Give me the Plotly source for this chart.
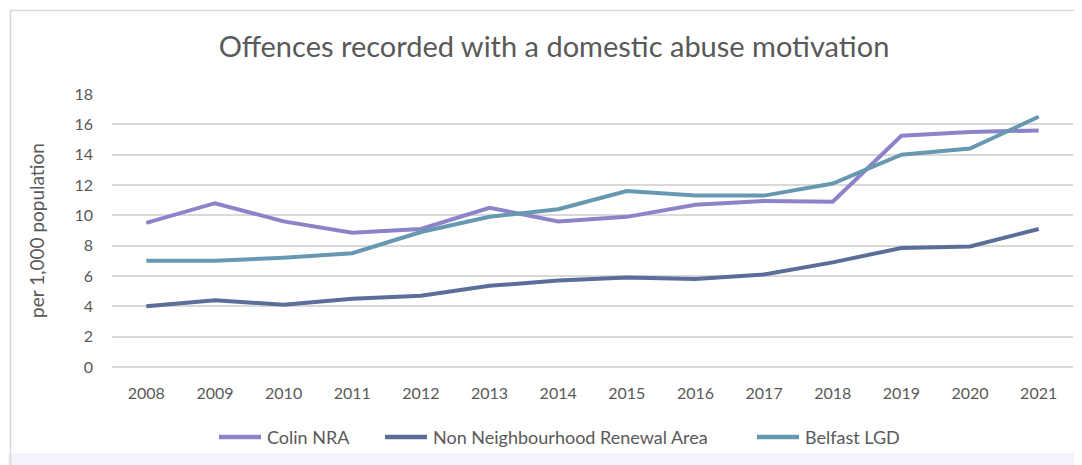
"""Offences recorded with a domestic abuse motivation - line chart."""

import plotly.graph_objects as go

years = [str(y) for y in range(2008, 2022)]
colin_nra = [9.5, 10.8, 9.6, 8.85, 9.1, 10.5, 9.6, 9.9, 10.7, 10.95, 10.9, 15.25, 15.5, 15.6]
non_nra = [4.0, 4.4, 4.1, 4.5, 4.7, 5.35, 5.7, 5.9, 5.8, 6.1, 6.9, 7.85, 7.95, 9.1]
belfast_lgd = [7.0, 7.0, 7.2, 7.5, 8.9, 9.9, 10.4, 11.6, 11.3, 11.3, 12.1, 14.0, 14.4, 16.5]

series = [
    ("Colin NRA", colin_nra, "#8B84C8"),
    ("Non Neighbourhood Renewal Area", non_nra, "#5A6E99"),
    ("Belfast LGD", belfast_lgd, "#6699B1"),
]
# legend key start x (page pixels) for each series
legend_x = [217, 383, 755]

FONT = "Lato, 'Open Sans', sans-serif"
TEXT = "#595959"
GRID = "#D9D9D9"

# page body has an 8px margin, so the figure is offset by 8px
OFF = 8
W, H = 1082 - OFF, 465 - OFF
# plot area in page pixels: x 112..1073, y 94..367
L = 112 - OFF
T = 94 - OFF
R = W - (1073 - OFF)
B = H - (367 - OFF)
PW, PH = W - L - R, H - T - B


def px_x(p):
    # page pixel x -> paper fraction
    return (p - OFF - L) / PW


def px_y(p):
    return (H - B - (p - OFF)) / PH


fig = go.Figure()
for name, vals, col in series:
    fig.add_trace(go.Scatter(
        x=years, y=vals, name=name, mode="lines",
        line=dict(color=col, width=4), showlegend=False,
    ))

shapes = [
    # faint lavender strip along the bottom edge
    dict(type="rect", xref="paper", yref="paper",
         x0=px_x(0), x1=px_x(1100), y0=px_y(480), y1=px_y(453),
         fillcolor="#F6F2FB", line=dict(width=0), layer="below"),
    # chart frame
    dict(type="rect", xref="paper", yref="paper",
         x0=px_x(10.5), x1=px_x(1100), y0=px_y(480), y1=px_y(10.5),
         line=dict(color=GRID, width=1.5), layer="below"),
]
annotations = []
# legend drawn by hand to get Excel-like spacing and long keys
LEG_Y = 437
for (name, _, col), lx in zip(series, legend_x):
    shapes.append(dict(
        type="line", xref="paper", yref="paper",
        x0=px_x(lx + 2), x1=px_x(lx + 44), y0=px_y(LEG_Y), y1=px_y(LEG_Y),
        line=dict(color=col, width=4.5),
    ))
    annotations.append(dict(
        text=name, xref="paper", yref="paper",
        x=px_x(lx + 48), y=px_y(LEG_Y), xanchor="left", yanchor="middle",
        showarrow=False, font=dict(size=18, color=TEXT),
    ))

fig.update_layout(
    width=W, height=H,
    margin=dict(l=L, r=R, t=T, b=B),
    paper_bgcolor="white", plot_bgcolor="white",
    font=dict(family=FONT, size=16, color=TEXT),
    title=dict(
        text="Offences recorded with a domestic abuse motivation",
        x=(554 - OFF) / W, xanchor="center", y=1 - (47 - OFF) / H, yanchor="middle",
        font=dict(size=29, color=TEXT),
    ),
    xaxis=dict(
        range=[-0.5, 13.5],
        showgrid=False, showline=False, ticks="",
        tickfont=dict(size=16), ticklabelstandoff=15,
    ),
    yaxis=dict(
        range=[0, 18], dtick=2, showgrid=True, gridcolor=GRID, gridwidth=1.5,
        zeroline=True, zerolinecolor=GRID, zerolinewidth=1.5,
        showline=False, ticks="", tickfont=dict(size=16), ticklabelstandoff=18,
        title=dict(text="per 1,000 population", font=dict(size=19), standoff=24),
    ),
    showlegend=False,
    shapes=shapes,
    annotations=annotations,
)

fig.write_html("out.html")
